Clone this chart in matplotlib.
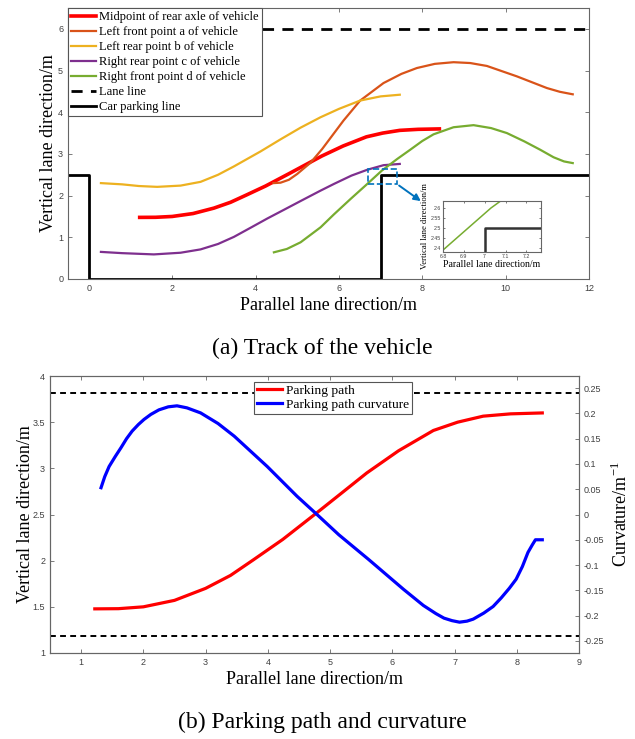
import numpy as np
import matplotlib
matplotlib.use('Agg')
import matplotlib.pyplot as plt
from matplotlib.patches import Rectangle

plt.rcParams['font.family'] = 'Liberation Serif'
plt.rcParams['mathtext.fontset'] = 'custom'
plt.rcParams['mathtext.rm'] = 'Liberation Serif'

# ---- vehicle tracks (x, y in m) ----
mid_x = [1.22, 1.6, 2.0, 2.5, 3.0, 3.4, 3.77, 4.24, 4.79, 5.2, 5.59, 6.1, 6.66, 7.05, 7.46, 7.9, 8.41]
mid_y = [1.478, 1.48, 1.50, 1.57, 1.70, 1.84, 2.01, 2.23, 2.52, 2.74, 2.95, 3.19, 3.41, 3.50, 3.565, 3.59, 3.60]

lf_x = [4.43, 4.6, 4.8, 5.0, 5.32, 5.6, 6.11, 6.51, 7.07, 7.5, 7.87, 8.3, 8.75, 9.15, 9.55, 10.27, 10.99, 11.3, 11.61]
lf_y = [2.30, 2.31, 2.38, 2.52, 2.79, 3.12, 3.80, 4.28, 4.70, 4.92, 5.06, 5.16, 5.20, 5.18, 5.11, 4.86, 4.58, 4.49, 4.43]

lr_x = [0.29, 0.8, 1.2, 1.64, 2.2, 2.68, 3.1, 3.48, 4.12, 4.6, 5.08, 5.56, 6.0, 6.51, 7.0, 7.46]
lr_y = [2.30, 2.27, 2.23, 2.21, 2.24, 2.33, 2.50, 2.70, 3.06, 3.35, 3.63, 3.88, 4.08, 4.28, 4.38, 4.42]

rr_x = [0.29, 0.8, 1.56, 2.2, 2.68, 3.1, 3.48, 3.9, 4.28, 4.7, 5.08, 5.56, 5.88, 6.3, 6.68, 7.07, 7.46]
rr_y = [0.65, 0.62, 0.59, 0.63, 0.71, 0.84, 1.01, 1.24, 1.45, 1.67, 1.87, 2.12, 2.28, 2.48, 2.62, 2.73, 2.76]

rf_x = [4.44, 4.75, 5.08, 5.56, 5.88, 6.28, 6.68, 7.03, 7.4, 7.71, 8.0, 8.27, 8.75, 9.23, 9.65,
        10.03, 10.45, 10.83, 11.15, 11.4, 11.61]
rf_y = [0.64, 0.72, 0.88, 1.24, 1.55, 1.92, 2.28, 2.60, 2.88, 3.10, 3.31, 3.47, 3.64, 3.69, 3.62,
        3.50, 3.30, 3.10, 2.92, 2.82, 2.78]

lane_y = 6.0
park_x = [-0.5, 0, 0, 7, 7, 12]
park_y = [2.5, 2.5, 0, 0, 2.5, 2.5]

# ---- parking path curvature (1/m) ----
curv_x = [1.32, 1.38, 1.45, 1.55, 1.64, 1.73, 1.82, 1.92, 2.01, 2.12, 2.25, 2.4, 2.54, 2.7, 2.92,
          3.2, 3.46, 3.99, 4.47, 4.79, 5.14, 5.62, 6.18, 6.5, 6.7, 6.83, 6.96, 7.08, 7.2, 7.3,
          7.47, 7.62, 7.75, 7.88, 7.99, 8.09, 8.18, 8.25, 8.30, 8.41]
curv_k = [0.053, 0.075, 0.095, 0.115, 0.132, 0.150, 0.165, 0.178, 0.188, 0.198, 0.207, 0.213, 0.215,
          0.211, 0.201, 0.180, 0.155, 0.095, 0.036, 0.0, -0.040, -0.089, -0.148, -0.180, -0.196,
          -0.205, -0.210, -0.213, -0.211, -0.207, -0.195, -0.182, -0.165, -0.146, -0.128, -0.103,
          -0.075, -0.060, -0.050, -0.050]
k_max = 0.24

grey = '#666666'


def style(ax, fs=6.5):
    for s in ax.spines.values():
        s.set_color(grey)
        s.set_linewidth(0.8)
    ax.tick_params(direction='in', length=3, width=0.6, color=grey,
                   labelsize=fs, labelcolor='#404040')
    for lab in ax.get_xticklabels() + ax.get_yticklabels():
        lab.set_fontfamily('Liberation Sans')


fig = plt.figure(figsize=(6.35, 7.39), dpi=100)

# ---------------- (a) track of the vehicle ----------------
ax = fig.add_axes([68 / 635, 1 - 279 / 739, 521 / 635, 271 / 739])
ax.plot(mid_x, mid_y, color='#FF0000', lw=2.6, label='Midpoint of rear axle of vehicle')
ax.plot(lf_x, lf_y, color='#D95319', lw=1.6, label='Left front point a of vehicle')
ax.plot(lr_x, lr_y, color='#EDB120', lw=1.6, label='Left rear point b of vehicle')
ax.plot(rr_x, rr_y, color='#7E2F8E', lw=1.6, label='Right rear point c of vehicle')
ax.plot(rf_x, rf_y, color='#77AC30', lw=1.6, label='Right front point d of vehicle')
ax.plot([-0.5, 12], [lane_y, lane_y], color='black', lw=2, ls=(0, (4, 3)), label='Lane line')
ax.plot(park_x, park_y, color='black', lw=2, label='Car parking line')
ax.set_xlim(-0.5, 12)
ax.set_ylim(0, 6.5)
ax.set_xticks([0, 2, 4, 6, 8, 10, 12])
ax.set_yticks([0, 1, 2, 3, 4, 5, 6])
ax.tick_params(top=True, right=True)
style(ax)
ax.set_xlabel('Parallel lane direction/m', fontsize=13, labelpad=3)
ax.set_ylabel('Vertical lane direction/m', fontsize=13, labelpad=1)
leg = ax.legend(loc='upper left', borderaxespad=0, fontsize=9.0, labelspacing=0.24,
                handlelength=2.0, handletextpad=0.25, borderpad=0.25, fancybox=False,
                framealpha=1, edgecolor='#555555')
leg.get_frame().set_linewidth(0.8)

# zoom box and arrow to the inset
ax.add_patch(Rectangle((6.70, 2.28), 0.69, 0.36, fill=False, ec='#0072BD', lw=1.2, ls='--', zorder=5))
ax.annotate('', xy=(8.02, 1.83), xytext=(7.39, 2.28),
            arrowprops=dict(arrowstyle='-|>', color='#0072BD', lw=1.4, mutation_scale=10))

ins = fig.add_axes([443 / 635, 1 - 252 / 739, 98 / 635, 51 / 739])
ins.plot(rf_x, rf_y, color='#77AC30', lw=1.1)
ins.plot(park_x, park_y, color='#333333', lw=1.8)
ins.set_xlim(6.8, 7.27)
ins.set_ylim(2.38, 2.635)
ins.set_xticks([6.8, 6.9, 7.0, 7.1, 7.2])
ins.set_xticklabels(['6.8', '6.9', '7', '7.1', '7.2'])
ins.set_yticks([2.4, 2.45, 2.5, 2.55, 2.6])
ins.set_yticklabels(['2.4', '2.45', '2.5', '2.55', '2.6'])
ins.tick_params(top=True, right=True, pad=1.5)
style(ins, fs=3.8)
ins.tick_params(length=1.5)
ins.set_xlabel('Parallel lane direction/m', fontsize=7, labelpad=1)
ins.set_ylabel('Vertical lane direction/m', fontsize=6.2, labelpad=1)

fig.text(0.507, 1 - 348 / 739, '(a) Track of the vehicle', fontsize=17, ha='center', va='center')

# ---------------- (b) parking path and curvature ----------------
bx = fig.add_axes([50 / 635, 1 - 653 / 739, 529 / 635, 277 / 739])
l1, = bx.plot(mid_x, mid_y, color='#FF0000', lw=2.3, label='Parking path')
bx.set_xlim(0.5, 9)
bx.set_ylim(1, 4)
bx.set_xticks(range(1, 10))
bx.set_yticks([1, 1.5, 2, 2.5, 3, 3.5, 4])
bx.set_yticklabels(['1', '1.5', '2', '2.5', '3', '3.5', '4'])
bx.tick_params(top=True)
style(bx)
bx.set_xlabel('Parallel lane direction/m', fontsize=13, labelpad=3)
bx.set_ylabel('Vertical lane direction/m', fontsize=13, labelpad=-1)

cx = bx.twinx()
l2, = cx.plot(curv_x, curv_k, color='#0000FF', lw=2.3, label='Parking path curvature')
cx.plot([0.5, 9], [k_max, k_max], color='black', lw=1.4, ls=(0, (3, 2.2)))
cx.plot([0.5, 9], [-k_max, -k_max], color='black', lw=1.4, ls=(0, (3, 2.2)))
cx.set_ylim(-0.274, 0.274)
kt = [-0.25, -0.2, -0.15, -0.1, -0.05, 0, 0.05, 0.1, 0.15, 0.2, 0.25]
cx.set_yticks(kt)
cx.set_yticklabels(['%g' % v for v in kt])
style(cx)
cx.set_ylabel('Curvature/m$^{\\mathregular{-1}}$', fontsize=13, labelpad=5)
leg2 = cx.legend([l1, l2], ['Parking path', 'Parking path curvature'], loc='upper left',
                 bbox_to_anchor=((254 - 50) / 529, 1 - 6 / 277), borderaxespad=0, fontsize=9.7,
                 labelspacing=0.1, handlelength=1.9, handletextpad=0.3, borderpad=0.2,
                 fancybox=False, framealpha=1, edgecolor='#555555')
leg2.get_frame().set_linewidth(0.8)

fig.text(0.507, 1 - 722 / 739, '(b) Parking path and curvature', fontsize=17, ha='center', va='center')

fig.savefig('out.png', dpi=100)
